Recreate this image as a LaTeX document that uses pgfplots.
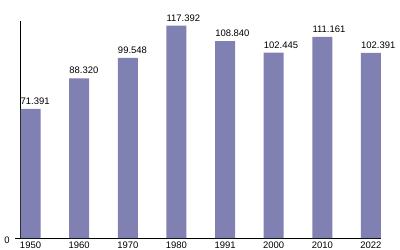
\documentclass[border=0pt]{standalone}
\usepackage{fontspec}
\setmainfont{Liberation Sans}
\usepackage{pgfplots}
\pgfplotsset{compat=1.18}
\definecolor{barc}{RGB}{128,128,178}
\begin{document}
\fontsize{9.5}{11}\selectfont
\begin{tikzpicture}
\begin{axis}[
  at={(0,0)}, anchor=south west,
  scale only axis,
  width=360.5bp, height=217bp,
  xmin=-0.206, xmax=7.206,
  ymin=0, ymax=120,
  axis x line*=bottom, axis y line*=left,
  axis line style={black, line width=0.8bp, -},
  xtick={0,...,7},
  xticklabels={1950,1960,1970,1980,1991,2000,2010,2022},
  ytick={0}, yticklabels={0},
  x tick style={draw=none},
  y tick style={black, line width=0.8bp},
  tick align=outside,
  major tick length=5.5bp,
  x tick label style={anchor=north, yshift=1.5bp, inner sep=0pt},
  y tick label style={xshift=-2bp, yshift=-2bp},
  /pgf/number format/assume math mode=true,
  tick label style={font=\fontsize{9.5}{11}\selectfont},
  ybar, bar width=20bp, bar shift=0pt,
  clip=false,
  nodes near coords,
  point meta=explicit symbolic,
  nodes near coords style={anchor=south west, xshift=-10bp, yshift=4bp, inner sep=0pt, font=\fontsize{9.5}{11}\selectfont},
]
\addplot[fill=barc, draw=none] table[meta=lab] {
x y lab
0 71.391 71.391
1 88.320 88.320
2 99.548 99.548
3 117.392 117.392
4 108.840 108.840
5 102.445 102.445
6 111.161 111.161
7 102.391 102.391
};
\end{axis}
\pgfresetboundingbox
\path[use as bounding box] (-20.5bp,-12bp) rectangle (379.5bp,238bp);
\end{tikzpicture}
\end{document}
